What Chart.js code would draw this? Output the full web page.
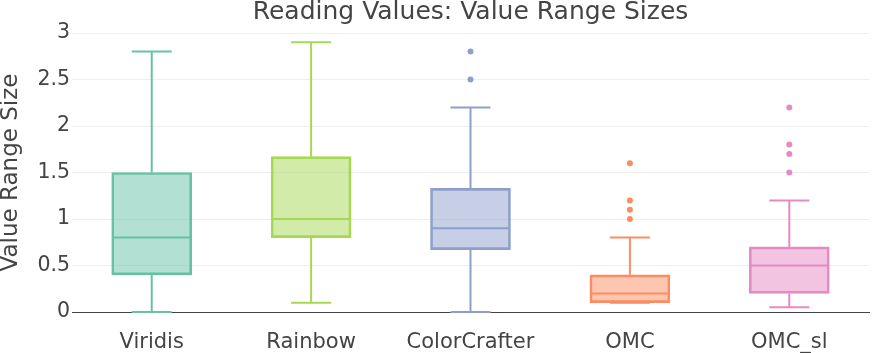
<!DOCTYPE html>
<html lang="en">
<head>
    <meta charset="UTF-8">
    <title>Reading Values: Value Range Sizes</title>
    <style>
        body { margin: 0; background: #fff; }
        #chart { display: block; }
    </style>
    <script src="https://cdn.jsdelivr.net/npm/chart.js"></script>
</head>
<body>
    <canvas id="chart" width="872" height="353"></canvas>

    <script>
        const categories = ['Viridis', 'Rainbow', 'ColorCrafter', 'OMC', 'OMC_sl'];
        const mins = [0, 0.1, 0, 0.1, 0.05];
        const q1s = [0.4, 0.8, 0.67, 0.1, 0.2];
        const medians = [0.8, 1.0, 0.9, 0.2, 0.5];
        const q3s = [1.5, 1.67, 1.33, 0.4, 0.7];
        const maxs = [2.8, 2.9, 2.2, 0.8, 1.2];
        const outliers = [[], [], [2.5, 2.8], [1.0, 1.1, 1.2, 1.6], [1.5, 1.7, 1.8, 2.2]];
        const yTicks = [0, 0.5, 1, 1.5, 2, 2.5, 3];

        const colors = ['#66c2a5', '#a6d854', '#8da0cb', '#fc8d62', '#e78ac3'];
        const fills = ['rgba(102,194,165,0.5)', 'rgba(166,216,84,0.5)', 'rgba(141,160,203,0.5)',
                       'rgba(252,141,98,0.5)', 'rgba(231,138,195,0.5)'];
        const textColor = '#444';
        const font = 'DejaVu Sans';

        // whiskers, caps and medians, drawn through the scales
        const boxLines = {
            id: 'boxLines',
            afterDatasetsDraw(chart) {
                const ctx = chart.ctx;
                const xs = chart.scales.x, ys = chart.scales.y;
                const meta = chart.getDatasetMeta(0);
                ctx.save();
                ctx.lineWidth = 2;
                categories.forEach((c, i) => {
                    const bar = meta.data[i];
                    const half = bar.width / 2;
                    const cx = xs.getPixelForValue(i);
                    const cap = half / 2;
                    ctx.strokeStyle = colors[i];
                    ctx.beginPath();
                    // median
                    const ym = ys.getPixelForValue(medians[i]);
                    ctx.moveTo(cx - half + 1, ym); ctx.lineTo(cx + half - 1, ym);
                    // upper whisker
                    ctx.moveTo(cx, ys.getPixelForValue(q3s[i])); ctx.lineTo(cx, ys.getPixelForValue(maxs[i]));
                    ctx.moveTo(cx - cap, ys.getPixelForValue(maxs[i])); ctx.lineTo(cx + cap, ys.getPixelForValue(maxs[i]));
                    // lower whisker
                    ctx.moveTo(cx, ys.getPixelForValue(q1s[i])); ctx.lineTo(cx, ys.getPixelForValue(mins[i]));
                    ctx.moveTo(cx - cap, ys.getPixelForValue(mins[i])); ctx.lineTo(cx + cap, ys.getPixelForValue(mins[i]));
                    ctx.stroke();
                });
                ctx.restore();
            }
        };

        const outlierSets = categories.map((c, i) => ({
            type: 'line',
            showLine: false,
            data: outliers[i].map(v => ({ x: c, y: v })),
            pointRadius: 3,
            pointHoverRadius: 3,
            pointBorderWidth: 0,
            pointBackgroundColor: colors[i],
            borderColor: colors[i]
        }));

        new Chart(document.getElementById('chart'), {
            type: 'bar',
            data: {
                labels: categories,
                datasets: [{
                    data: categories.map((c, i) => [q1s[i], q3s[i]]),
                    backgroundColor: fills,
                    borderColor: colors,
                    borderWidth: 2,
                    borderSkipped: false,
                    barThickness: 80
                }, ...outlierSets]
            },
            options: {
                responsive: false,
                animation: false,
                layout: { padding: { left: 0, right: 0, top: 0, bottom: 0 } },
                plugins: {
                    legend: { display: false },
                    tooltip: { enabled: false },
                    title: {
                        display: true,
                        fullSize: false,
                        text: 'Reading Values: Value Range Sizes',
                        color: textColor,
                        font: { family: font, size: 25, weight: 'normal', lineHeight: 1 },
                        padding: { top: 0, bottom: 8 }
                    }
                },
                scales: {
                    x: {
                        grid: { display: false },
                        border: { display: true, color: textColor, width: 1 },
                        ticks: { color: textColor, font: { family: font, size: 21 }, padding: 10 },
                        afterFit(scale) { scale.height = 41; }
                    },
                    y: {
                        min: 0,
                        max: 3,
                        afterBuildTicks(scale) { scale.ticks = yTicks.map(v => ({ value: v })); },
                        grid: { color: '#eeeeee', drawTicks: false },
                        border: { display: false },
                        ticks: {
                            color: textColor,
                            font: { family: font, size: 20.5 },
                            padding: 2,
                            callback: v => String(v)
                        },
                        title: {
                            display: true,
                            text: 'Value Range Size',
                            color: textColor,
                            font: { family: font, size: 23, lineHeight: 1 },
                            padding: 0
                        },
                        afterFit(scale) { scale.width = 72; }
                    }
                }
            },
            plugins: [boxLines]
        });
    </script>
</body>
</html>
